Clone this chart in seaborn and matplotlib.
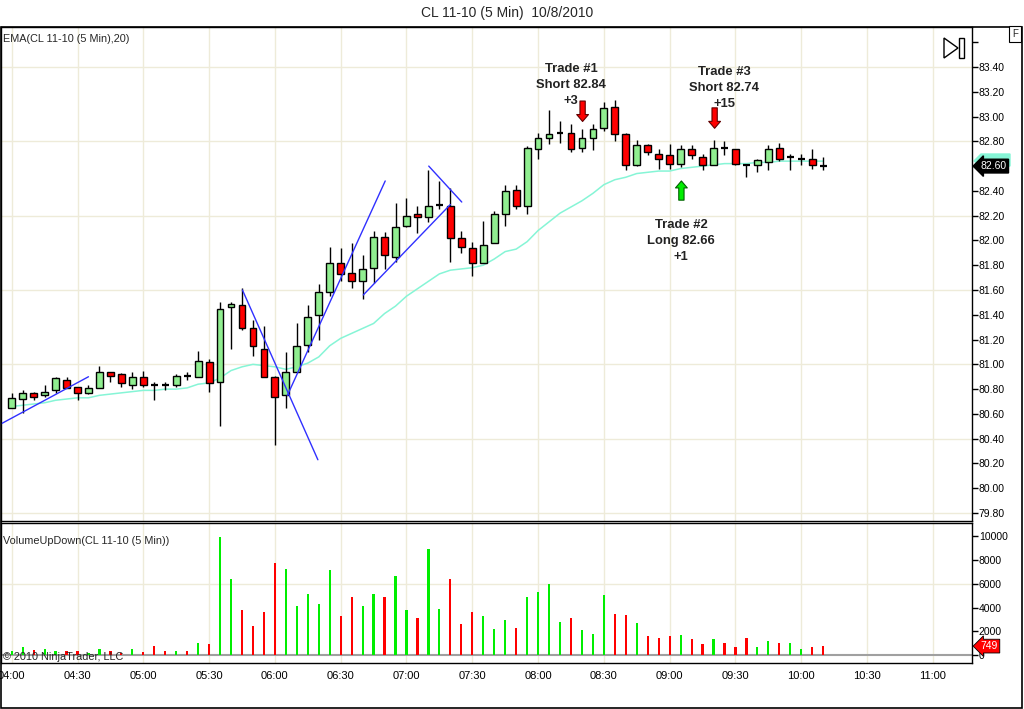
import numpy as np
import pandas as pd
import matplotlib
matplotlib.use("Agg")
from matplotlib import pyplot as plt
from matplotlib.patches import Rectangle, Polygon
import seaborn as sns

sns.set_style("white")
plt.rcParams["font.family"] = ["Liberation Sans", "DejaVu Sans"]

# 5 minute bars, 04:00 .. 10:10
opens = [80.65, 80.72, 80.77, 80.75, 80.79, 80.87, 80.82, 80.77, 80.81, 80.94,
         80.92, 80.83, 80.90, 80.83, 80.83, 80.83, 80.91, 80.90, 81.02, 80.86,
         81.46, 81.48, 81.29, 81.12, 80.90, 80.75, 80.94, 81.16, 81.40, 81.58,
         81.82, 81.74, 81.67, 81.78, 82.03, 81.87, 82.12, 82.21, 82.19, 82.29,
         82.28, 82.02, 81.94, 81.82, 81.98, 82.21, 82.41, 82.28, 82.74, 82.83,
         82.87, 82.87, 82.75, 82.83, 82.91, 83.08, 82.86, 82.61, 82.77, 82.70,
         82.69, 82.62, 82.74, 82.67, 82.61, 82.75, 82.74, 82.61, 82.61, 82.63,
         82.75, 82.67, 82.66, 82.66, 82.60]
highs = [80.77, 80.79, 80.78, 80.83, 80.90, 80.90, 80.82, 80.83, 80.99, 80.94,
         80.93, 80.94, 80.95, 80.86, 80.86, 80.92, 80.94, 81.11, 81.04, 81.50,
         81.50, 81.62, 81.36, 81.31, 80.91, 81.10, 81.33, 81.48, 81.65, 81.95,
         81.94, 81.98, 81.88, 82.08, 82.07, 82.30, 82.34, 82.28, 82.57, 82.48,
         82.42, 82.08, 81.99, 82.16, 82.24, 82.45, 82.45, 82.76, 82.87, 83.05,
         82.96, 82.94, 82.90, 82.94, 83.12, 83.13, 82.87, 82.81, 82.78, 82.74,
         82.78, 82.77, 82.77, 82.70, 82.81, 82.80, 82.74, 82.61, 82.66, 82.77,
         82.79, 82.70, 82.70, 82.74, 82.67]
lows = [80.65, 80.61, 80.71, 80.74, 80.77, 80.81, 80.71, 80.76, 80.81, 80.86,
        80.82, 80.80, 80.82, 80.71, 80.79, 80.82, 80.87, 80.90, 80.78, 80.50,
        81.12, 81.28, 81.07, 80.90, 80.35, 80.65, 80.94, 81.10, 81.20, 81.55,
        81.67, 81.62, 81.53, 81.66, 81.77, 81.83, 82.11, 82.06, 82.15, 82.25,
        81.83, 81.90, 81.71, 81.82, 81.98, 82.12, 82.25, 82.21, 82.66, 82.78,
        82.79, 82.71, 82.71, 82.73, 82.88, 82.80, 82.57, 82.60, 82.69, 82.58,
        82.58, 82.59, 82.66, 82.57, 82.61, 82.69, 82.61, 82.51, 82.55, 82.57,
        82.64, 82.57, 82.61, 82.58, 82.57]
closes = [80.73, 80.77, 80.74, 80.78, 80.89, 80.81, 80.77, 80.81, 80.94, 80.91,
          80.85, 80.90, 80.83, 80.83, 80.83, 80.91, 80.91, 81.03, 80.85, 81.45,
          81.49, 81.29, 81.15, 80.90, 80.74, 80.94, 81.15, 81.38, 81.58, 81.82,
          81.73, 81.67, 81.77, 82.03, 81.88, 82.11, 82.20, 82.19, 82.28, 82.29,
          82.02, 81.95, 81.82, 81.96, 82.21, 82.40, 82.28, 82.75, 82.83, 82.86,
          82.87, 82.74, 82.83, 82.90, 83.07, 82.86, 82.61, 82.77, 82.71, 82.66,
          82.62, 82.74, 82.69, 82.61, 82.75, 82.75, 82.62, 82.61, 82.65, 82.74,
          82.66, 82.67, 82.66, 82.61, 82.60]
ema20 = [80.66, 80.67, 80.68, 80.69, 80.71, 80.72, 80.73, 80.73, 80.75, 80.76,
         80.77, 80.78, 80.79, 80.79, 80.80, 80.80, 80.81, 80.84, 80.85, 80.89,
         80.95, 80.98, 81.00, 80.99, 80.98, 80.96, 80.98, 81.01, 81.06, 81.15,
         81.21, 81.25, 81.29, 81.33, 81.41, 81.47, 81.55, 81.61, 81.67, 81.73,
         81.76, 81.77, 81.78, 81.80, 81.85, 81.91, 81.93, 81.99, 82.08, 82.15,
         82.22, 82.27, 82.32, 82.38, 82.45, 82.49, 82.51, 82.54, 82.55, 82.56,
         82.56, 82.58, 82.59, 82.60, 82.61, 82.62, 82.62, 82.62, 82.63, 82.63,
         82.64, 82.64, 82.64, 82.64, 82.64]
volume = [350, 670, 420, 500, 335, 335, 335, 170, 500, 335,
          170, 500, 250, 755, 335, 335, 335, 1005, 920, 9970,
          6370, 3770, 2430, 3600, 7790, 7290, 4105, 5110, 4275, 7205,
          3270, 4860, 4105, 5110, 4860, 6700, 3770, 3100, 8965, 3855,
          6450, 2600, 3600, 3270, 2180, 2930, 2260, 4860, 5280, 5950,
          2765, 3100, 2095, 1760, 5030, 3435, 3350, 2680, 1590, 1425,
          1590, 1675, 1340, 920, 1340, 1005, 670, 1425, 670, 1175,
          1005, 1005, 500, 670, 749]
vol_dir = ("u u d u u d d u u d d u d d d u d u d u "
           "u d d d d u u u u u d d u u d u u d u u "
           "d d d u u u d u u u u d u u u d d u d d "
           "d u d d u d d d u u d u u d d").split()

time_labels = ["04:00", "04:30", "05:00", "05:30", "06:00", "06:30", "07:00", "07:30",
               "08:00", "08:30", "09:00", "09:30", "10:00", "10:30", "11:00"]
price_ticks = [79.8, 80.0, 80.2, 80.4, 80.6, 80.8, 81.0, 81.2, 81.4, 81.6, 81.8,
               82.0, 82.2, 82.4, 82.6, 82.8, 83.0, 83.2, 83.4, 83.6]
vol_ticks = [0, 2000, 4000, 6000, 8000, 10000]

# hand drawn trend lines (bar index, price)
trend_lines = [((-0.97, 80.52), (7.0, 80.90)),
               ((21.04, 81.60), (27.92, 80.23)),
               ((25.14, 80.75), (34.06, 82.48)),
               ((32.06, 81.56), (40.0, 82.29)),
               ((38.03, 82.60), (41.04, 82.31))]

# trade markers: text, text position, arrow tail, arrow tip, colour
trades = [("Trade #1\nShort 82.84\n+3", (51.0, 83.255), (52.06, 83.125), (52.06, 82.96), "#FF0000"),
          ("Trade #2\nLong 82.66\n+1", (61.05, 81.996), (61.07, 82.325), (61.07, 82.48), "#00EE00"),
          ("Trade #3\nShort 82.74\n+15", (65.0, 83.23), (64.1, 83.07), (64.1, 82.905), "#FF0000")]

bars = np.arange(len(closes))
o = np.array(opens)
c = np.array(closes)
grid_c = "#EEEBD9"
ema_c = "#86F5D6"

fig = plt.figure(figsize=(10.24, 7.09), dpi=100)
ax = fig.add_axes([0.001, 0.2652, 0.948, 0.6968])
axv = fig.add_axes([0.001, 0.0649, 0.948, 0.1975])

x_lo, x_hi = -0.975, 87.55
for a in (ax, axv):
    a.set_xlim(x_lo, x_hi)
    for t in range(0, 88, 6):
        a.axvline(t, color=grid_c, lw=1, zorder=0)
    for s in a.spines.values():
        s.set_color("black")
        s.set_linewidth(1)

# price panel
ax.set_ylim(79.736, 83.723)
for g in [79.8, 80.4, 81.0, 81.6, 82.2, 82.8, 83.4]:
    ax.axhline(g, color=grid_c, lw=1, zorder=0)

sns.lineplot(x=bars, y=ema20, ax=ax, color=ema_c, linewidth=1.1, zorder=1.5)

ax.vlines(bars, lows, highs, color="black", lw=1, zorder=2)
doji = np.abs(c - o) < 0.005
body_col = np.where(c > o, "#90EE90", "#FF0000")
ax.bar(bars[~doji], np.abs(c - o)[~doji], bottom=np.minimum(o, c)[~doji], width=0.62,
       color=body_col[~doji], edgecolor="black", linewidth=1, zorder=3)
ax.hlines(c[doji], bars[doji] - 0.31, bars[doji] + 0.31, color="black", lw=1.6, zorder=3)

for (x0, y0), (x1, y1) in trend_lines:
    ax.plot([x0, x1], [y0, y1], color="#3030FF", lw=1, zorder=4)

for txt, (tx, ty), tail, tip, col in trades:
    ax.text(tx, ty, txt, ha="center", va="center", fontsize=9.4, fontweight="bold",
            color="#222222", linespacing=1.4, zorder=5)
    ax.annotate("", xy=tip, xytext=tail,
                arrowprops=dict(arrowstyle="simple,head_width=0.85,head_length=0.5,tail_width=0.38",
                                fc=col, ec="#600000" if col == "#FF0000" else "#006000",
                                lw=0.8, shrinkA=0, shrinkB=0), zorder=5)

ax.yaxis.tick_right()
ax.set_yticks(price_ticks)
ax.set_yticklabels(["%.2f" % p for p in price_ticks[:-1]] + [""])
ax.tick_params(axis="y", direction="out", length=4, width=1, labelsize=7.5, pad=1, colors="black")
ax.set_xticks(range(0, 88, 6))
ax.tick_params(axis="x", length=0, labelbottom=False)
ax.set_xlabel("")
ax.set_ylabel("")

ytr = ax.get_yaxis_transform()
ax.text(1.009, 82.60, "82.60", transform=ytr, ha="left", va="center", fontsize=7.5,
        color="white", clip_on=False, zorder=7,
        bbox=dict(boxstyle="larrow,pad=0.18", fc="black", ec="black"))

# volume panel
vol_df = pd.DataFrame({"bar": bars, "volume": volume, "dir": vol_dir})
sns.barplot(data=vol_df, x="bar", y="volume", hue="dir",
            palette={"u": "#00EE00", "d": "#FF0000"}, native_scale=True, dodge=False,
            width=0.2, errorbar=None, legend=False, saturation=1, linewidth=0, ax=axv, zorder=3)
axv.set_xlim(x_lo, x_hi)
axv.set_ylim(-675, 11139)
axv.axhline(6000, color=grid_c, lw=1, zorder=0)
axv.axhline(0, color="#A0A0A0", lw=1.5, zorder=2)
axv.yaxis.tick_right()
axv.set_yticks(vol_ticks)
axv.set_yticklabels([str(v) for v in vol_ticks])
axv.tick_params(axis="y", direction="out", length=4, width=1, labelsize=7.5, pad=1, colors="black")
axv.set_xticks(range(0, 88, 6))
axv.set_xticklabels(time_labels)
axv.tick_params(axis="x", direction="out", length=4, width=1, labelsize=8, pad=2, colors="black")
axv.set_xlabel("")
axv.set_ylabel("")
vtr = axv.get_yaxis_transform()
axv.text(1.009, 749, "749", transform=vtr, ha="left", va="center", fontsize=7.5,
         color="white", clip_on=False, zorder=7,
         bbox=dict(boxstyle="larrow,pad=0.18", fc="#FF0000", ec="black", lw=0.6))

# labels and chrome
def fx(px):
    return px / 1024.0

def fy(py):
    return 1 - py / 709.0

# EMA marker peeking out above the last-price box (drawn beneath the axes)
fig.add_artist(Polygon([[fx(974), fy(161)], [fx(981), fy(154)], [fx(1010), fy(154)],
                        [fx(1010), fy(166)], [fx(981), fy(166)]], closed=True,
                       fc=ema_c, ec=ema_c, lw=1, transform=fig.transFigure, zorder=-1))

fig.text(fx(507), fy(13), "CL 11-10 (5 Min)  10/8/2010", ha="center", va="center", fontsize=10)
fig.text(fx(3), fy(39), "EMA(CL 11-10 (5 Min),20)", ha="left", va="center", fontsize=7.8)
fig.text(fx(3), fy(541), "VolumeUpDown(CL 11-10 (5 Min))", ha="left", va="center", fontsize=7.8)
fig.text(fx(3), fy(657), "\u00a9 2010 NinjaTrader, LLC", ha="left", va="center", fontsize=7.8)
fig.text(fx(1015), fy(34), "F", ha="center", va="center", fontsize=7,
         bbox=dict(boxstyle="square,pad=0.3", fc="white", ec="black", lw=0.8))

fig.add_artist(Polygon([[fx(944), fy(38)], [fx(958), fy(48)], [fx(944), fy(58)]], closed=True,
                       fill=False, ec="black", lw=1, transform=fig.transFigure))
fig.add_artist(Rectangle((fx(959), fy(58)), fx(5), fy(38) - fy(58), fill=False, ec="black",
                         lw=1, transform=fig.transFigure))
fig.add_artist(Rectangle((fx(0.5), fy(708)), fx(1021), fy(27) - fy(708), fill=False, ec="black",
                         lw=1.2, transform=fig.transFigure))

fig.savefig("out.png", dpi=100)
